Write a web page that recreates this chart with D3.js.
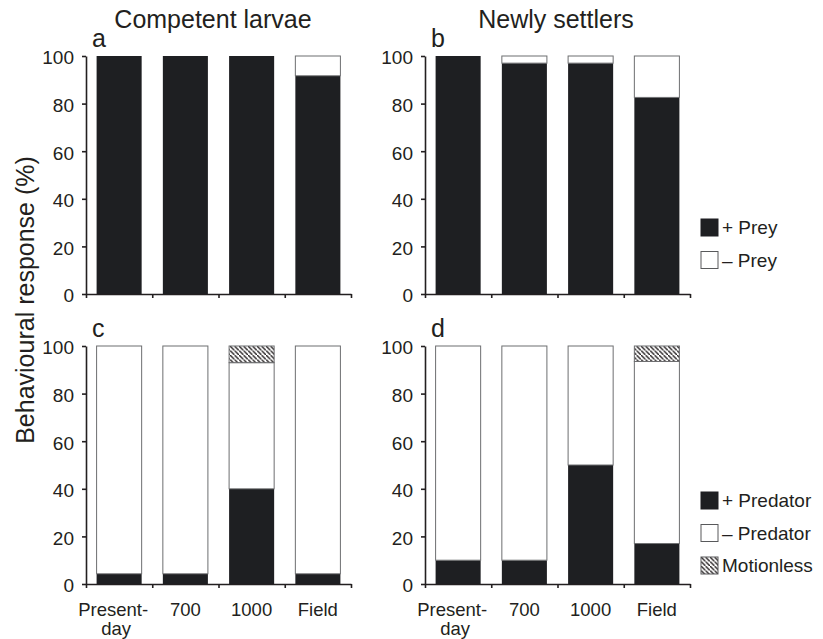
<!DOCTYPE html>
<html>
<head>
<meta charset="utf-8">
<script src="https://cdn.jsdelivr.net/npm/d3@7"></script>
<style>
  body { margin: 0; background: #fff; }
  svg text { font-family: "Liberation Sans", Arial, sans-serif; fill: #231f20; }
  .axis path, .axis line { stroke: #231f20; stroke-width: 1.6; }
  .axis text { font-size: 19px; }
</style>
</head>
<body>
<div id="chart"></div>
<script>
const categories = ["Present-day", "700", "1000", "Field"];

// prey panels (a, b)
const larvaePreyPlus = [100, 100, 100, 91.7];
const larvaePreyMinus = [0, 0, 0, 8.3];
const settlerPreyPlus = [100, 97, 97, 82.6];
const settlerPreyMinus = [0, 3, 3, 17.4];

// predator panels (c, d)
const larvaePredPlus = [4.3, 4.3, 40, 4.3];
const larvaePredMinus = [95.7, 95.7, 53, 95.7];
const larvaeMotionless = [0, 0, 7, 0];
const settlerPredPlus = [10, 10, 50, 17];
const settlerPredMinus = [90, 90, 50, 76.5];
const settlerMotionless = [0, 0, 0, 6.5];

const yTicks = [0, 20, 40, 60, 80, 100];
const columnTitles = ["Competent larvae", "Newly settlers"];
const preyLegend = ["+ Prey", "\u2013 Prey"];
const predLegend = ["+ Predator", "\u2013 Predator", "Motionless"];

const width = 823, height = 639;
const svg = d3.select("#chart").append("svg")
  .attr("width", width)
  .attr("height", height);

const defs = svg.append("defs");
const pat = defs.append("pattern")
  .attr("id", "hatch")
  .attr("patternUnits", "userSpaceOnUse")
  .attr("width", 4.5)
  .attr("height", 4.5);
pat.append("rect").attr("width", 4.5).attr("height", 4.5).attr("fill", "#fff");
pat.append("path")
  .attr("d", "M-1,-1 l2,2 M0,0 l4.5,4.5 M3.5,3.5 l2,2")
  .attr("stroke", "#231f20")
  .attr("stroke-width", 1.4);

const fills = { plus: "#1e1f22", minus: "#fff", still: "url(#hatch)" };

const panels = [
  { id: "a", left: 86, top: 56, keys: ["plus", "minus"], cols: [larvaePreyPlus, larvaePreyMinus], labels: false },
  { id: "b", left: 425, top: 56, keys: ["plus", "minus"], cols: [settlerPreyPlus, settlerPreyMinus], labels: false },
  { id: "c", left: 86, top: 346, keys: ["plus", "minus", "still"], cols: [larvaePredPlus, larvaePredMinus, larvaeMotionless], labels: true },
  { id: "d", left: 425, top: 346, keys: ["plus", "minus", "still"], cols: [settlerPredPlus, settlerPredMinus, settlerMotionless], labels: true }
];
const pw = 265, ph = 238;

panels.forEach(function (p) {
  const g = svg.append("g").attr("transform", "translate(" + p.left + "," + p.top + ")");

  const x = d3.scaleBand().domain(categories).range([0, pw]).paddingInner(0.32).paddingOuter(0.16);
  const xEdges = d3.scaleLinear().domain([0, categories.length]).range([0, pw]);
  const y = d3.scaleLinear().domain([0, 100]).range([ph, 0]);

  const rows = categories.map(function (c, i) {
    const r = { cat: c };
    p.keys.forEach(function (k, j) { r[k] = p.cols[j][i]; });
    return r;
  });
  const series = d3.stack().keys(p.keys)(rows);

  g.selectAll(".layer")
    .data(series)
    .join("g")
    .attr("class", "layer")
    .selectAll("rect")
    .data(function (s) {
      return s.filter(function (d) { return d[1] - d[0] > 0; })
        .map(function (d) { return { key: s.key, d: d }; });
    })
    .join("rect")
    .attr("x", function (o) { return x(o.d.data.cat); })
    .attr("width", x.bandwidth())
    .attr("y", function (o) { return y(o.d[1]); })
    .attr("height", function (o) { return y(o.d[0]) - y(o.d[1]); })
    .attr("fill", function (o) { return fills[o.key]; })
    .attr("stroke", function (o) { return o.key === "plus" ? "none" : "#6d6e70"; })
    .attr("stroke-width", 1);

  g.append("g")
    .attr("class", "axis")
    .call(d3.axisLeft(y).tickValues(yTicks).tickSize(4).tickSizeOuter(0).tickPadding(8))
    .selectAll("text").attr("dy", "0.42em").attr("fill", "#231f20");

  g.append("g")
    .attr("class", "axis")
    .attr("transform", "translate(0," + ph + ")")
    .call(d3.axisBottom(xEdges).ticks(categories.length).tickSize(4).tickSizeOuter(0).tickFormat(""));

  if (p.labels) {
    const lab = g.append("g").attr("class", "catlab");
    categories.forEach(function (c) {
      const cx = x(c) + x.bandwidth() / 2;
      if (c === "Present-day") {
        lab.append("text").attr("x", cx - 6).attr("y", ph + 32)
          .attr("text-anchor", "middle").style("font-size", "18.5px").text("Present-");
        lab.append("text").attr("x", cx - 3).attr("y", ph + 51)
          .attr("text-anchor", "middle").style("font-size", "18.5px").text("day");
      } else {
        lab.append("text").attr("x", cx).attr("y", ph + 32)
          .attr("text-anchor", "middle").style("font-size", "18.5px").text(c);
      }
    });
  }

  g.append("text")
    .attr("x", 6)
    .attr("y", -9)
    .style("font-size", "25px")
    .text(p.id);
});

// column titles
svg.append("text").attr("x", 213).attr("y", 28).attr("text-anchor", "middle")
  .style("font-size", "25px").text(columnTitles[0]);
svg.append("text").attr("x", 556).attr("y", 28).attr("text-anchor", "middle")
  .style("font-size", "25px").text(columnTitles[1]);

// y-axis label
svg.append("text")
  .attr("transform", "translate(34,300) rotate(-90)")
  .attr("text-anchor", "middle")
  .style("font-size", "25px")
  .text("Behavioural response (%)");

// legends
function legend(top, labels, keys) {
  const lg = svg.append("g").attr("transform", "translate(701," + top + ")");
  const item = lg.selectAll("g").data(labels).join("g")
    .attr("transform", function (d, i) { return "translate(0," + i * 32.5 + ")"; });
  item.append("rect")
    .attr("width", 17).attr("height", 17)
    .attr("fill", function (d, i) { return fills[keys[i]]; })
    .attr("stroke", function (d, i) { return keys[i] === "plus" ? "#1e1f22" : "#58595b"; })
    .attr("stroke-width", 1);
  item.append("text")
    .attr("x", 21).attr("y", 15)
    .style("font-size", "19px")
    .text(function (d) { return d; });
}
legend(219, preyLegend, ["plus", "minus"]);
legend(492, predLegend, ["plus", "minus", "still"]);
</script>
</body>
</html>
